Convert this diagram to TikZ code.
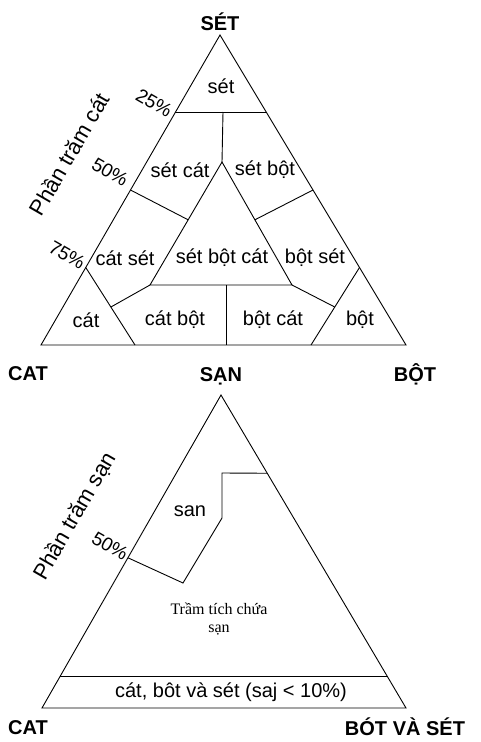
\documentclass[tikz,border=0pt]{standalone}
\usepackage{fontspec}
\setmainfont{Liberation Sans}
\newfontfamily\oldserif{Liberation Serif}
\usetikzlibrary{calc}
\tikzstyle{edge}=[line width=0.9pt]
\tikzstyle{zone}=[font=\fontsize{20}{20}\selectfont,inner sep=1pt]
\tikzstyle{corner}=[font=\bfseries\fontsize{20}{20}\selectfont]
\tikzstyle{pct}=[font=\fontsize{19}{19}\selectfont,rotate=-30,inner sep=0pt]
\tikzstyle{axis}=[font=\fontsize{22}{22}\selectfont,rotate=60,inner sep=0pt]
\tikzstyle{note}=[font=\oldserif\fontsize{16}{18}\selectfont,align=center]

\begin{document}
\begin{tikzpicture}[x=1pt,y=-1pt]
  \useasboundingbox (0,0) rectangle (480,742);
  % upper triangle
  \coordinate (set) at (220,35);
  \coordinate (cat) at (41,345);
  \coordinate (bot) at (406,345);
  \coordinate (l25) at ($(set)!0.25!(cat)$);
  \coordinate (r25) at ($(set)!0.25!(bot)$);
  \coordinate (l50) at ($(set)!0.5!(cat)$);
  \coordinate (r50) at ($(set)!0.5!(bot)$);
  \coordinate (l75) at ($(set)!0.75!(cat)$);
  \coordinate (r75) at ($(set)!0.75!(bot)$);
  \coordinate (m25) at (223,112);
  \coordinate (itop) at (222,162);
  \coordinate (ileft) at (150,285);
  \coordinate (iright) at (292,285);
  \coordinate (jl) at ($(itop)!0.47!(ileft)$);
  \coordinate (jr) at ($(itop)!0.47!(iright)$);
  \coordinate (b75l) at (135,345);
  \coordinate (b75r) at (311,345);
  \coordinate (kl) at ($(l75)!0.51!(b75l)$);
  \coordinate (kr) at ($(r75)!0.51!(b75r)$);
  \coordinate (imid) at (226,285);
  \coordinate (bmid) at (226,345);
  \draw[edge] (set) -- (cat) -- (bot) -- cycle;
  \draw[edge] (l25) -- (r25);
  \draw[edge] (m25) -- (itop);
  \draw[edge] (itop) -- (ileft) -- (iright) -- cycle;
  \draw[edge] (l50) -- (jl);
  \draw[edge] (r50) -- (jr);
  \draw[edge] (l75) -- (b75l);
  \draw[edge] (r75) -- (b75r);
  \draw[edge] (kl) -- (ileft);
  \draw[edge] (kr) -- (iright);
  \draw[edge] (imid) -- (bmid);
  \node[corner] (lset) at (220,22) {SÉT};
  \node[corner] (lcat) at (28,374) {CAT};
  \node[corner] (lsan) at (221,376) {SẠN};
  \node[corner] (lbot) at (415,374) {BỘT};
  \node[axis] (acat) at (69,154) {Phần trăm cát};
  \node[pct] (p25) at (154,103) {25\%};
  \node[pct] (p50) at (110,172) {50\%};
  \node[pct] (p75) at (67,255) {75\%};
  \node[zone] (zset) at (221,86) {sét};
  \node[zone] (zsc) at (180,170) {sét cát};
  \node[zone] (zsb) at (265,170) {sét bột};
  \node[zone] (zcs) at (125,258) {cát sét};
  \node[zone] (zsbc) at (222,258) {sét bột cát};
  \node[zone] (zbs) at (315,258) {bột sét};
  \node[zone] (zc) at (86,320) {cát};
  \node[zone] (zcb) at (175,320) {cát bột};
  \node[zone] (zbc) at (273,320) {bột cát};
  \node[zone] (zb) at (360,320) {bột};
  % lower triangle
  \coordinate (san) at (221,395);
  \coordinate (cat2) at (42,708);
  \coordinate (bs) at (406,708);
  \coordinate (l90) at ($(san)!0.9!(cat2)$);
  \coordinate (r90) at ($(san)!0.9!(bs)$);
  \coordinate (g1) at ($(san)!0.25!(bs)$);
  \coordinate (g2) at (222,473);
  \coordinate (g3) at (222,518);
  \coordinate (g4) at (183,583);
  \coordinate (g5) at ($(san)!0.52!(cat2)$);
  \draw[edge] (san) -- (cat2) -- (bs) -- cycle;
  \draw[edge] (l90) -- (r90);
  \draw[edge] (g1) -- (g2) -- (g3) -- (g4) -- (g5);
  \node[axis] (asan) at (75,516) {Phần trăm sạn};
  \node[pct] (q50) at (110,546) {50\%};
  \node[zone] (zsan) at (190,511) {san};
  \node[note] (ztram) at (219,619) {Trầm tích chứa\\sạn};
  \node[zone] (zfine) at (231,692) {cát, bôt và sét (saj < 10\%)};
  \node[corner] (lcat2) at (28,728) {CAT};
  \node[corner] (lbs) at (405,727) {BÓT VÀ SÉT};
\end{tikzpicture}
\end{document}
